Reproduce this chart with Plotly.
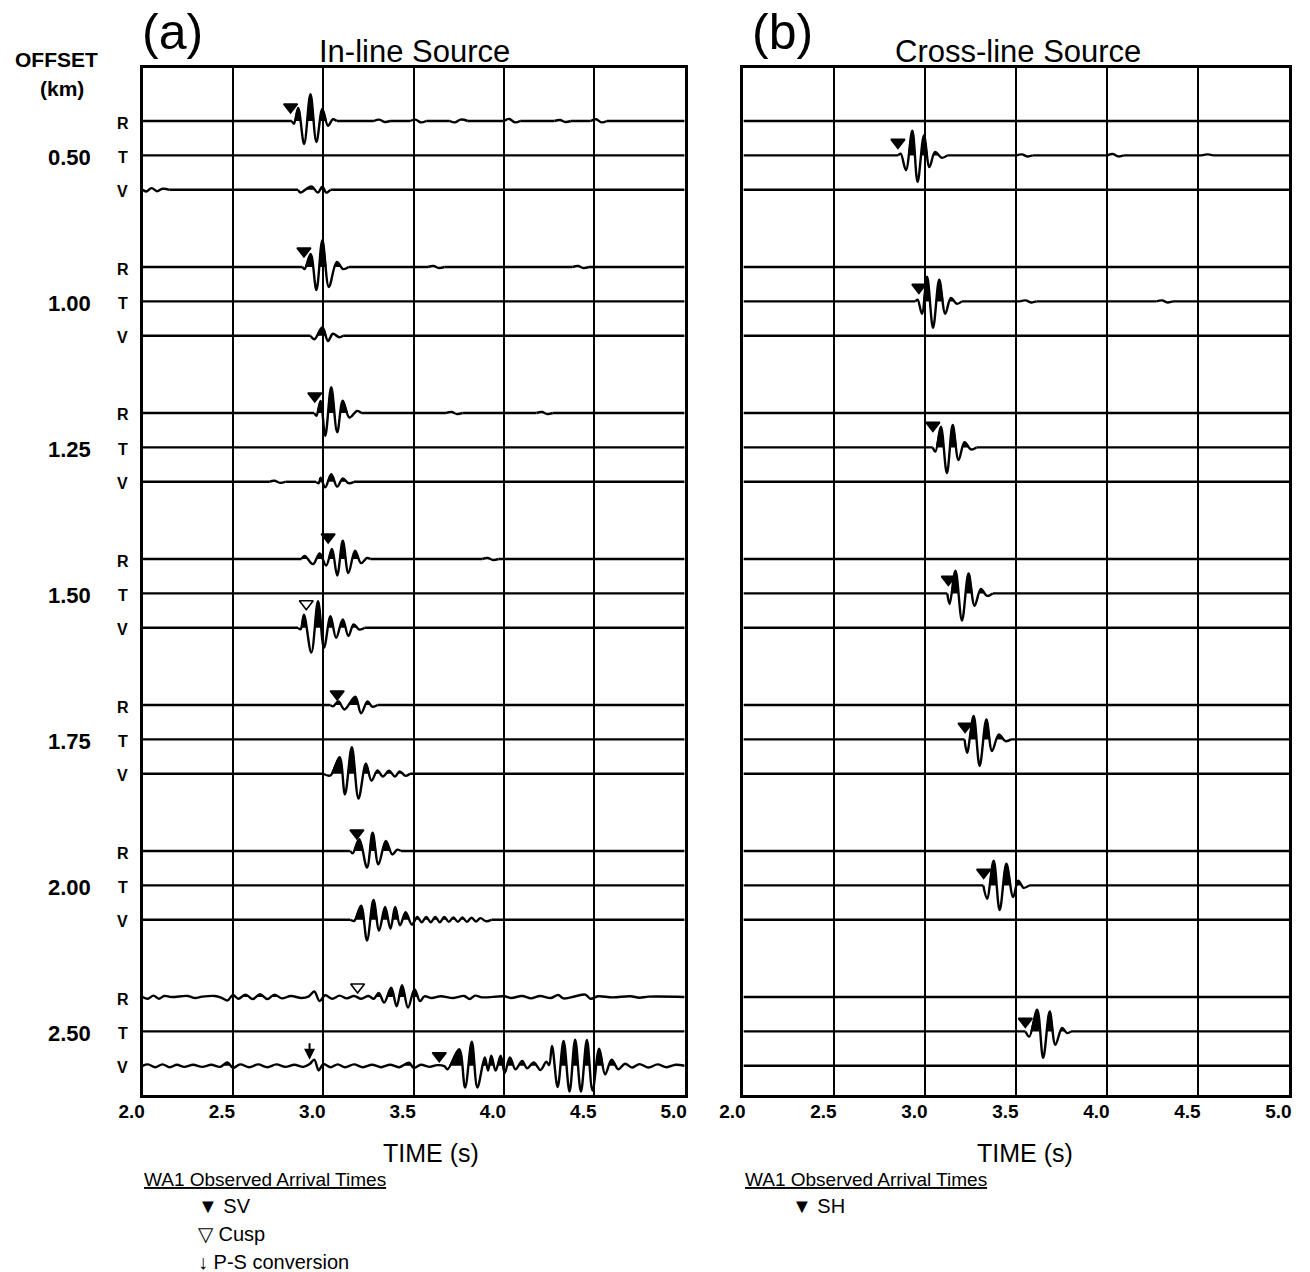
import plotly.graph_objects as go

# ---------------------------------------------------------------- data
time_ticks = [2.0, 2.5, 3.0, 3.5, 4.0, 4.5, 5.0]
tick_text = ["2.0", "2.5", "3.0", "3.5", "4.0", "4.5", "5.0"]
offsets_km = ["0.50", "1.00", "1.25", "1.50", "1.75", "2.00", "2.50"]
components = ["R", "T", "V"]

# Each trace is a list of (time s, amplitude) turning points; amplitude is in
# units of the trace spacing, positive up. Empty list = flat trace.
inline_R = [
    [(2.826, 0), (2.838, -0.08), (2.861, 0.38), (2.894, -0.67), (2.929, 0.78), (2.962, -0.61),
     (2.995, 0.35), (3.026, -0.14), (3.053, 0.05), (3.075, 0), (3.28, 0), (3.31, 0.04),
     (3.34, -0.03), (3.37, 0), (3.48, 0), (3.51, 0.04), (3.54, -0.04), (3.57, 0), (3.70, 0),
     (3.73, -0.04), (3.76, 0.04), (3.80, 0), (4.00, 0), (4.03, 0.06), (4.06, -0.04), (4.09, 0),
     (4.28, 0), (4.31, 0.03), (4.34, -0.03), (4.37, 0), (4.48, 0), (4.51, 0.05), (4.54, -0.04),
     (4.57, 0)],
    [(2.885, 0), (2.897, -0.06), (2.930, 0.38), (2.962, -0.67), (2.995, 0.78), (3.031, -0.58),
     (3.075, 0.15), (3.110, -0.06), (3.14, 0), (3.58, 0), (3.61, 0.03), (3.64, -0.03),
     (3.67, 0), (4.38, 0), (4.41, 0.03), (4.44, -0.03), (4.47, 0)],
    [(2.950, 0), (2.962, -0.08), (2.985, 0.35), (3.011, -0.66), (3.044, 0.75), (3.077, -0.56),
     (3.108, 0.36), (3.144, -0.13), (3.187, 0.06), (3.21, 0), (3.68, 0), (3.71, 0.03),
     (3.74, -0.03), (3.77, 0), (4.18, 0), (4.21, 0.03), (4.24, -0.03), (4.27, 0)],
    [(2.880, 0), (2.897, 0.09), (2.943, -0.15), (2.980, 0.16), (3.016, -0.19), (3.048, 0.29),
     (3.077, -0.48), (3.108, 0.53), (3.139, -0.41), (3.176, 0.24), (3.209, -0.12),
     (3.242, 0.03), (3.26, 0), (3.88, 0), (3.91, 0.03), (3.94, -0.03), (3.97, 0)],
    [(3.040, 0), (3.053, -0.04), (3.084, 0.10), (3.117, -0.13), (3.177, 0.24), (3.209, -0.24),
     (3.245, 0.10), (3.272, -0.05), (3.30, 0)],
    [(3.150, 0), (3.163, -0.07), (3.199, 0.34), (3.242, -0.48), (3.273, 0.53), (3.305, -0.39),
     (3.346, 0.29), (3.382, -0.10), (3.410, 0.04), (3.43, 0)],
    [(2.0, 0), (2.03, -0.05), (2.06, 0.04), (2.09, -0.05), (2.12, 0.03), (2.16, 0), (2.25, 0.03),
     (2.29, -0.03), (2.33, 0.01), (2.40, 0.03), (2.44, -0.03), (2.47, -0.10), (2.50, 0.06),
     (2.53, -0.05), (2.57, 0.07), (2.61, -0.06), (2.65, 0.08), (2.69, -0.06), (2.73, 0.07),
     (2.77, -0.04), (2.82, 0.03), (2.88, -0.03), (2.92, 0.02), (2.95, 0.16), (2.98, -0.12),
     (3.01, 0.05), (3.05, -0.05), (3.09, 0.04), (3.13, -0.04), (3.17, 0.03), (3.21, -0.05),
     (3.25, 0.03), (3.28, -0.05), (3.307, 0.12), (3.337, -0.16), (3.376, 0.27), (3.406, -0.27),
     (3.436, 0.34), (3.469, -0.31), (3.505, 0.23), (3.535, -0.12), (3.56, 0.02), (3.60, -0.03),
     (3.65, 0.02), (3.72, -0.03), (3.78, 0.03), (3.81, -0.06), (3.84, 0.04), (3.88, -0.01),
     (4.00, 0.02), (4.04, -0.03), (4.10, 0.03), (4.15, -0.04), (4.20, 0.03), (4.26, -0.03),
     (4.30, 0.06), (4.33, -0.04), (4.40, 0.03), (4.45, 0.07), (4.48, -0.05), (4.52, 0.02),
     (4.60, -0.01), (4.70, 0.02), (4.75, -0.02), (4.80, 0.01), (5.0, 0)],
]
inline_T = [[], [], [], [], [], [], []]
inline_V = [
    [(2.0, 0), (2.02, -0.05), (2.05, 0.05), (2.08, -0.04), (2.11, 0.03), (2.15, 0),
     (2.860, 0), (2.874, -0.08), (2.934, 0.10), (2.970, -0.08), (2.995, 0.10), (3.016, -0.08),
     (3.04, 0)],
    [(2.930, 0), (2.951, -0.10), (2.995, 0.25), (3.026, -0.15), (3.053, 0.06), (3.088, -0.04),
     (3.11, 0)],
    [(2.70, 0), (2.73, 0.03), (2.76, -0.03), (2.79, 0), (2.960, 0), (2.975, -0.04),
     (2.985, 0.12), (3.011, -0.16), (3.044, 0.22), (3.077, -0.14), (3.108, 0.10),
     (3.140, -0.04), (3.17, 0)],
    [(2.860, 0), (2.875, -0.04), (2.893, 0.38), (2.934, -0.72), (2.971, 0.77), (3.004, -0.58),
     (3.040, 0.34), (3.071, -0.29), (3.108, 0.24), (3.139, -0.24), (3.168, 0.10),
     (3.199, -0.05), (3.23, 0)],
    [(3.000, 0), (3.040, -0.05), (3.090, 0.48), (3.120, -0.60), (3.158, 0.77), (3.195, -0.72),
     (3.236, 0.29), (3.267, -0.20), (3.300, 0.10), (3.330, -0.08), (3.364, 0.09),
     (3.396, -0.08), (3.423, 0.07), (3.456, -0.06), (3.48, 0)],
    [(3.150, 0), (3.172, -0.03), (3.209, 0.41), (3.242, -0.60), (3.278, 0.58), (3.309, -0.31),
     (3.342, 0.37), (3.372, -0.26), (3.398, 0.37), (3.425, -0.16), (3.456, 0.22),
     (3.490, -0.14), (3.520, 0.08), (3.545, -0.07), (3.570, 0.08), (3.595, -0.07),
     (3.620, 0.08), (3.645, -0.07), (3.670, 0.08), (3.695, -0.06), (3.720, 0.07),
     (3.745, -0.06), (3.770, 0.07), (3.795, -0.06), (3.820, 0.06), (3.845, -0.05),
     (3.870, 0.05), (3.900, -0.04), (3.93, 0)],
    [(2.0, 0), (2.03, 0.04), (2.07, -0.04), (2.11, 0.04), (2.15, -0.04), (2.19, 0.03),
     (2.23, -0.03), (2.28, 0.03), (2.33, -0.03), (2.38, 0.03), (2.43, -0.03), (2.47, 0.10),
     (2.50, -0.06), (2.54, 0.04), (2.59, -0.04), (2.64, 0.04), (2.69, -0.04), (2.74, 0.04),
     (2.79, -0.03), (2.84, 0.03), (2.89, -0.03), (2.925, 0.05), (2.95, 0.18), (2.975, -0.13),
     (3.00, 0.05), (3.04, -0.04), (3.08, 0.04), (3.12, -0.04), (3.17, 0.04), (3.22, -0.04),
     (3.27, 0.03), (3.32, -0.04), (3.37, 0.03), (3.42, -0.04), (3.475, 0.09), (3.50, -0.06),
     (3.54, 0.03), (3.59, -0.03), (3.63, 0.02), (3.67, -0.01), (3.688, -0.10), (3.752, 0.48),
     (3.785, -0.63), (3.822, 0.70), (3.853, -0.63), (3.894, 0.24), (3.912, -0.14),
     (3.930, 0.29), (3.954, -0.14), (3.982, 0.29), (4.004, -0.21), (4.033, 0.24),
     (4.064, -0.10), (4.101, 0.14), (4.128, -0.07), (4.165, 0.10), (4.202, -0.12),
     (4.235, 0.12), (4.250, 0.02), (4.266, 0.58), (4.297, -0.62), (4.330, 0.72),
     (4.363, -0.75), (4.394, 0.76), (4.426, -0.75), (4.459, 0.75), (4.490, -0.72),
     (4.527, 0.50), (4.560, -0.25), (4.596, 0.18), (4.633, -0.10), (4.67, 0.06),
     (4.71, -0.05), (4.75, 0.05), (4.80, -0.05), (4.85, 0.04), (4.90, -0.04), (4.95, 0.03),
     (5.0, 0)],
]
crossline_R = [[], [], [], [], [], [], []]
crossline_T = [
    [(2.850, 0), (2.864, 0.05), (2.893, -0.43), (2.928, 0.72), (2.957, -0.77), (2.992, 0.58),
     (3.022, -0.34), (3.053, 0.10), (3.090, -0.07), (3.12, 0), (3.50, 0), (3.53, 0.03),
     (3.56, -0.03), (3.59, 0), (4.00, 0), (4.03, 0.04), (4.06, -0.03), (4.09, 0), (4.52, 0),
     (4.55, 0.03), (4.58, 0)],
    [(2.945, 0), (2.957, 0.05), (2.981, -0.36), (3.009, 0.72), (3.042, -0.77), (3.076, 0.63),
     (3.109, -0.36), (3.140, 0.10), (3.173, -0.07), (3.20, 0), (3.52, 0), (3.55, 0.03),
     (3.58, -0.03), (3.61, 0), (4.27, 0), (4.30, 0.03), (4.33, -0.03), (4.36, 0)],
    [(3.040, 0), (3.055, -0.12), (3.085, 0.60), (3.118, -0.75), (3.150, 0.65), (3.182, -0.37),
     (3.215, 0.15), (3.250, -0.06), (3.28, 0)],
    [(3.120, 0), (3.133, -0.31), (3.165, 0.66), (3.201, -0.79), (3.237, 0.58), (3.270, -0.36),
     (3.305, 0.13), (3.338, -0.07), (3.37, 0)],
    [(3.215, 0), (3.229, -0.39), (3.265, 0.68), (3.298, -0.77), (3.335, 0.58), (3.366, -0.34),
     (3.403, 0.14), (3.440, -0.05), (3.47, 0)],
    [(3.318, 0), (3.339, -0.39), (3.375, 0.72), (3.408, -0.72), (3.445, 0.63), (3.482, -0.34),
     (3.510, 0.14), (3.540, -0.07), (3.57, 0)],
    [(3.550, 0), (3.571, -0.15), (3.614, 0.63), (3.647, -0.77), (3.683, 0.58), (3.714, -0.39),
     (3.751, 0.10), (3.778, -0.05), (3.80, 0)],
]
crossline_V = [[], [], [], [], [], [], []]

# Observed arrival picks: (offset index, component index, time s)
sv_picks = [(0, 0, 2.819), (1, 0, 2.893), (2, 0, 2.953), (3, 0, 3.027), (4, 0, 3.077),
            (5, 0, 3.186), (6, 2, 3.642)]
cusp_picks = [(3, 2, 2.906), (6, 0, 3.190)]
ps_picks = [(6, 2, 2.924)]
sh_picks = [(0, 1, 2.849), (1, 1, 2.964), (2, 1, 3.041), (3, 1, 3.126), (4, 1, 3.218),
            (5, 1, 3.320), (6, 1, 3.549)]

# ---------------------------------------------------------------- layout geometry
W, H = 1310, 1272
PANEL_X = [(121, 674), (734, 1291)]
TOP, BOTTOM = 68, 1095
FIRST_TRACE = 121
TRACE_PX = 34.4
GROUP_PX = 146.0

# marker heights above the trace line (pixels)
sv_lift = [14, 16, 17, 22, 11, 18, 10]
cusp_lift = [24, 10]
sh_lift = [13, 14, 22, 14, 13, 13, 10]

SANS = "Liberation Sans, Arial, sans-serif"


def base(i, j):
    return i * GROUP_PX / TRACE_PX + j


def px(x, y):
    return x / W, 1 - y / H


def split_runs(points):
    """Split a turning-point list into wiggle runs separated by flat stretches."""
    runs, cur = [], []
    for p in points:
        if cur and cur[-1][1] == 0 and p[1] == 0:
            if len(cur) > 1:
                runs.append(cur)
            cur = [p]
        else:
            cur.append(p)
    if len(cur) > 1:
        runs.append(cur)
    return runs


fig = go.Figure()


def add_trace(points, b, xa, ya):
    runs = split_runs(points)
    # flat stretches of the trace
    bx, by = [], []
    t_prev = 2.0
    for r in runs:
        if r[0][0] > t_prev:
            bx += [t_prev, r[0][0], None]
            by += [b, b, None]
        t_prev = r[-1][0]
    if t_prev < 5.0:
        bx += [t_prev, 5.0]
        by += [b, b]
    fig.add_trace(go.Scatter(x=bx, y=by, mode="lines", line=dict(color="black", width=2.4),
                             xaxis=xa, yaxis=ya, hoverinfo="skip", showlegend=False))
    for r in runs:
        ts = [p[0] for p in r]
        amps = [p[1] for p in r]
        # variable-area fill of the positive lobes
        fx, fy = [], []
        for k in range(1, len(r) - 1):
            a = amps[k]
            if a > 0.06 and amps[k - 1] <= 0 and amps[k + 1] <= 0:
                t0, a0 = ts[k - 1], amps[k - 1]
                tl = t0 + (ts[k] - t0) * (0 - a0) / (a - a0)
                t2, a2 = ts[k + 1], amps[k + 1]
                tr = ts[k] + (t2 - ts[k]) * a / (a - a2)
                fx += [tl, ts[k], tr, None]
                fy += [b, b - a, b, None]
        if fx:
            fig.add_trace(go.Scatter(x=fx, y=fy, mode="lines", fill="toself", fillcolor="black",
                                     line=dict(color="black", width=1, shape="spline"),
                                     xaxis=xa, yaxis=ya, hoverinfo="skip", showlegend=False))
        fig.add_trace(go.Scatter(x=ts, y=[b - a for a in amps], mode="lines",
                                 line=dict(color="black", width=2.4, shape="spline", smoothing=1.0),
                                 xaxis=xa, yaxis=ya, hoverinfo="skip", showlegend=False))


panels = [
    ("x", "y", [inline_R, inline_T, inline_V]),
    ("x2", "y2", [crossline_R, crossline_T, crossline_V]),
]
for xa, ya, comps in panels:
    for j, comp in enumerate(comps):
        for i, pts in enumerate(comp):
            add_trace(pts, base(i, j), xa, ya)


def add_picks(picks, lifts, symbol, xa, ya):
    fig.add_trace(go.Scatter(
        x=[p[2] for p in picks],
        y=[base(p[0], p[1]) - l / TRACE_PX for p, l in zip(picks, lifts)],
        mode="markers", xaxis=xa, yaxis=ya, hoverinfo="skip", showlegend=False,
        marker=dict(symbol=symbol, size=12, color="black", line=dict(color="black", width=1.6))))


add_picks(sv_picks, sv_lift, "triangle-down", "x", "y")
add_picks(cusp_picks, cusp_lift, "triangle-down-open", "x", "y")
add_picks(sh_picks, sh_lift, "triangle-down", "x2", "y2")

for i, j, t in ps_picks:
    fig.add_annotation(x=t, y=base(i, j) - 6 / TRACE_PX, xref="x", yref="y",
                       ax=0, ay=-18, showarrow=True, arrowhead=2, arrowsize=1.1,
                       arrowwidth=2, arrowcolor="black", text="")

# ---------------------------------------------------------------- axes
y_top = -(FIRST_TRACE - TOP) / TRACE_PX
y_bot = (BOTTOM - FIRST_TRACE) / TRACE_PX
ydom = [1 - BOTTOM / H, 1 - TOP / H]
for k, (x0, x1) in enumerate(PANEL_X):
    sx = "" if k == 0 else str(k + 1)
    fig.update_layout(**{
        "xaxis" + sx: dict(domain=[x0 / W, x1 / W], range=[2.0, 5.0], tickvals=time_ticks,
                           ticktext=tick_text, showgrid=True, gridcolor="black", gridwidth=2,
                           zeroline=False, showline=True, mirror=True, linecolor="black",
                           linewidth=3, ticks="", ticklabelshift=-11, ticklabelstandoff=-3,
                           tickfont=dict(family=SANS, size=19, color="black", weight="bold"),
                           anchor="y" + sx, fixedrange=True),
        "yaxis" + sx: dict(domain=ydom, range=[y_bot, y_top], showgrid=False, zeroline=False,
                           showticklabels=False, ticks="", showline=True, mirror=True,
                           linecolor="black", linewidth=3, anchor="x" + sx, fixedrange=True),
    })


# ---------------------------------------------------------------- text
def label(x, y, text, size, anchor="center", bold=False):
    xp, yp = px(x, y)
    fig.add_annotation(x=xp, y=yp, xref="paper", yref="paper", text=text, showarrow=False,
                       xanchor=anchor, yanchor="middle",
                       font=dict(family=SANS, size=size, color="black",
                                 weight="bold" if bold else "normal"))


label(152, 32, "(a)", 50)
label(774, 32, "(b)", 50)
label(398, 52, "In-line Source", 31)
label(1014, 52, "Cross-line Source", 31)
label(33, 60, "OFFSET", 21, bold=True)
label(39, 89, "(km)", 21, bold=True)

for i, off in enumerate(offsets_km):
    yb = FIRST_TRACE + base(i, 1) * TRACE_PX
    label(46, yb + 2, off, 22, bold=True)
    for j, c in enumerate(components):
        label(101, FIRST_TRACE + base(i, j) * TRACE_PX + 2, c, 16, bold=True)

label(415, 1153, "TIME (s)", 25)
label(1021, 1153, "TIME (s)", 25)

label(120, 1179, "<u>WA1 Observed Arrival Times</u>", 19, anchor="left")
label(175, 1206, "▼ SV", 20, anchor="left")
label(175, 1234, "▽ Cusp", 20, anchor="left")
label(175, 1262, "↓ P-S conversion", 20, anchor="left")
label(734, 1179, "<u>WA1 Observed Arrival Times</u>", 19, anchor="left")
label(782, 1206, "▼ SH", 20, anchor="left")

fig.update_layout(width=W, height=H, margin=dict(l=0, r=0, t=0, b=0),
                  paper_bgcolor="white", plot_bgcolor="white", showlegend=False)

fig.write_html("out.html")
